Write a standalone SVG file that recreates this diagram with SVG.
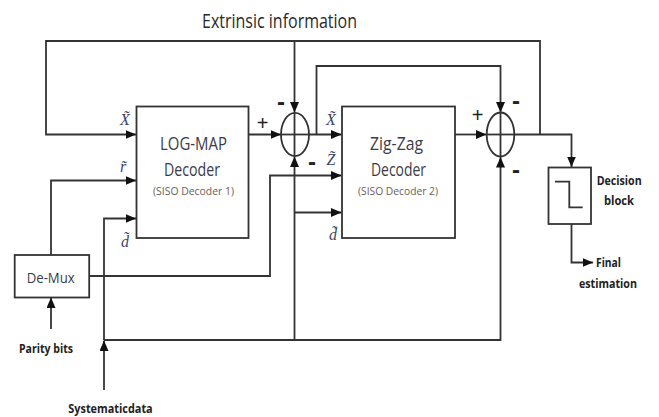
<svg xmlns="http://www.w3.org/2000/svg" width="659" height="417" viewBox="0 0 659 417">
  <style>
    .ln { fill: none; stroke: #333; stroke-width: 1.8; stroke-linejoin: miter; }
    .arr { marker-end: url(#ah); }
    .box { fill: #fff; stroke: #333; stroke-width: 1.8; }
    .sum { fill: none; stroke: #333; stroke-width: 1.8; }
    .t { font-family: "Open Sans", "Noto Sans", sans-serif; fill: #2a2a2a; }
    .blk { font-family: "Open Sans", "Noto Sans", sans-serif; fill: #3a3c48; }
    .sub { font-family: "Open Sans", "Noto Sans", sans-serif; fill: #6b6055; font-size: 11.5px; }
    .lbl { font-family: "Open Sans", "Noto Sans", sans-serif; font-weight: bold; font-size: 13px; fill: #222; }
    .sgn { font-family: "Liberation Sans", Arial, sans-serif; font-size: 20px; fill: #222; text-anchor: middle; }
    .neg { font-family: "Liberation Sans", Arial, sans-serif; font-size: 24px; font-weight: bold; fill: #222; text-anchor: middle; }
    .math { font-family: "Liberation Serif", "DejaVu Serif", serif; font-style: italic; font-size: 16px; fill: #3a4768; text-anchor: middle; }
  </style>
  <defs>
    <marker id="ah" markerUnits="userSpaceOnUse" markerWidth="11" markerHeight="10" refX="10.5" refY="4.5" orient="auto">
      <path d="M0,0 L10.5,4.5 L0,9 z" fill="#111"/>
    </marker>
  </defs>

  <rect width="659" height="417" fill="#fff"/>

  <text class="t" x="202" y="28.3" font-size="20" textLength="155" lengthAdjust="spacingAndGlyphs">Extrinsic information</text>

  <g id="connectors">
    <!-- outer feedback loop into LOG-MAP X input -->
    <path class="ln arr" d="M540,134.5 V41 H46 V134.5 H136"/>
    <path class="ln arr" d="M294.5,41 V112.5"/>
    <!-- LOG-MAP to first summer -->
    <path class="ln arr" d="M248,134.5 H281"/>
    <!-- first summer to Zig-Zag X input -->
    <path class="ln arr" d="M309,134.5 H341.5"/>
    <path class="ln arr" d="M316.5,134.5 V66 H500.5 V112.5"/>
    <!-- Zig-Zag to second summer -->
    <path class="ln arr" d="M455,134.5 H486.5"/>
    <!-- second summer to decision block -->
    <path class="ln arr" d="M514,134.5 H571.5 V167"/>
    <!-- decision output -->
    <path class="ln arr" d="M571.5,224 V262.5 H593"/>
    <!-- De-Mux outputs -->
    <path class="ln arr" d="M51,255 V180.5 H136"/>
    <path class="ln arr" d="M89,276 H270 V175.5 H341.5"/>
    <!-- parity bits -->
    <path class="ln arr" d="M51,329 V297.5"/>
    <!-- systematic data -->
    <path class="ln arr" d="M104,390 V340.5"/>
    <path class="ln arr" d="M104,340 V218.5 H136"/>
    <path class="ln arr" d="M104,340 H500.5 V157"/>
    <path class="ln arr" d="M294.5,340 V156.5"/>
    <path class="ln arr" d="M294.5,212.5 H341.5"/>
  </g>

  <g id="logmap">
    <rect class="box" x="136.5" y="106.5" width="112" height="131.5"/>
    <text class="blk" x="160" y="150" font-size="18.5" textLength="67" lengthAdjust="spacingAndGlyphs">LOG-MAP</text>
    <text class="blk" x="164" y="176" font-size="18.5" textLength="56" lengthAdjust="spacingAndGlyphs">Decoder</text>
    <text class="sub" x="153" y="194.5" textLength="81" lengthAdjust="spacingAndGlyphs">(SISO Decoder 1)</text>
    <text class="math" x="125" y="125">X̃</text>
    <text class="math" x="123" y="171.5">r̃</text>
    <text class="math" x="125" y="246.5">d̃</text>
  </g>

  <g id="sum1">
    <ellipse class="sum" cx="295" cy="134.5" rx="14" ry="21.7"/>
    <line class="ln" x1="281" y1="134.5" x2="309" y2="134.5"/>
    <line class="ln" x1="294.5" y1="112.8" x2="294.5" y2="156.2"/>
    <text class="sgn" x="262.5" y="130">+</text>
    <text class="neg" x="281" y="109.5">-</text>
    <text class="neg" x="312" y="170">-</text>
  </g>

  <g id="zigzag">
    <rect class="box" x="342" y="106.5" width="113" height="131.5"/>
    <text class="blk" x="370" y="150" font-size="18.5" textLength="53" lengthAdjust="spacingAndGlyphs">Zig-Zag</text>
    <text class="blk" x="371" y="176" font-size="18.5" textLength="55" lengthAdjust="spacingAndGlyphs">Decoder</text>
    <text class="sub" x="358" y="194.5" textLength="80" lengthAdjust="spacingAndGlyphs">(SISO Decoder 2)</text>
    <text class="math" x="331" y="125">X̃</text>
    <text class="math" x="331" y="165">Z̃</text>
    <text class="math" x="333" y="240">d̃</text>
  </g>

  <g id="sum2">
    <ellipse class="sum" cx="500.5" cy="134.5" rx="13.8" ry="22"/>
    <line class="ln" x1="486.5" y1="134.5" x2="514" y2="134.5"/>
    <line class="ln" x1="500.5" y1="112.5" x2="500.5" y2="156.5"/>
    <text class="sgn" x="477.5" y="121.5">+</text>
    <text class="neg" x="516" y="108.5">-</text>
    <text class="neg" x="516" y="178">-</text>
  </g>

  <g id="decision">
    <rect class="box" x="548.5" y="167.5" width="42.5" height="56.5"/>
    <path class="ln" d="M555,181.7 H569.3 V207.3 H582.7"/>
    <text class="lbl" x="596.7" y="185" textLength="45" lengthAdjust="spacingAndGlyphs">Decision</text>
    <text class="lbl" x="604" y="205" textLength="30" lengthAdjust="spacingAndGlyphs">block</text>
    <text class="lbl" x="596" y="266.5" textLength="25" lengthAdjust="spacingAndGlyphs">Final</text>
    <text class="lbl" x="579" y="288" textLength="58" lengthAdjust="spacingAndGlyphs">estimation</text>
  </g>

  <g id="demux">
    <rect class="box" x="14.7" y="255" width="74.5" height="42.5"/>
    <text class="blk" x="26.7" y="282.7" font-size="15" textLength="48" lengthAdjust="spacingAndGlyphs">De-Mux</text>
    <text class="lbl" x="19" y="353" textLength="54" lengthAdjust="spacingAndGlyphs">Parity bits</text>
    <text class="lbl" x="68.3" y="412.5" textLength="84.4" lengthAdjust="spacingAndGlyphs">Systematicdata</text>
  </g>
</svg>
